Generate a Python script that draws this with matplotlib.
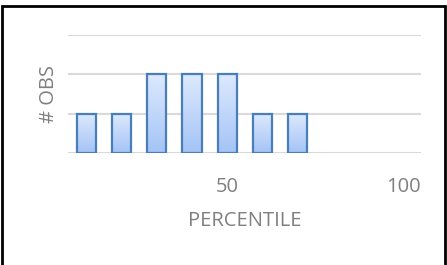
import numpy as np
import matplotlib
matplotlib.use("Agg")
import matplotlib.pyplot as plt
from matplotlib.patches import Rectangle
from matplotlib.colors import LinearSegmentedColormap

percentile = [10, 20, 30, 40, 50, 60, 70]
obs = [1, 1, 2, 2, 2, 1, 1]
xticks = [50, 100]

fig = plt.figure(figsize=(4.47, 2.65), dpi=100)
ax = fig.add_axes([68 / 447, 1 - 153 / 265, (421 - 68) / 447, (153 - 35) / 265])

grad = LinearSegmentedColormap.from_list("g", ["#a4c4f6", "#dde9fd"])
bars = ax.bar(percentile, obs, width=5.4, facecolor="none",
              edgecolor="#4a7ebb", linewidth=1.6, zorder=3)
for b in bars:
    x0, y0 = b.get_x(), b.get_y()
    w, h = b.get_width(), b.get_height()
    im = ax.imshow(np.linspace(0, 1, 100).reshape(-1, 1), cmap=grad,
                   extent=[x0, x0 + w, y0, y0 + h], origin="lower",
                   aspect="auto", zorder=2)
    im.set_clip_path(b)

ax.set_xlim(4.8, 105)
ax.set_ylim(0, 3)
ax.set_yticks([0, 1, 2, 3])
ax.set_yticklabels([])
ax.set_xticks(xticks)
ax.grid(axis="y", color="#d9d9d9", linewidth=1.5, zorder=0)
for s in ax.spines.values():
    s.set_visible(False)
ax.tick_params(length=0, labelsize=14.5, labelcolor="#7f7f7f", pad=17)
for lab in ax.get_xticklabels():
    lab.set_fontfamily("Open Sans")
ax.set_xlabel("PERCENTILE", fontsize=14.5, color="#7f7f7f",
              fontfamily="Open Sans")
ax.set_ylabel("# OBS", fontsize=14.5, color="#7f7f7f",
              fontfamily="Open Sans")
ax.xaxis.set_label_coords(0.5, -0.49)
ax.yaxis.set_label_coords(-0.025, 0.5)

fig.patches.append(Rectangle((2 / 447, -0.1), 443 / 447, 1.1 - 6 / 265,
                             transform=fig.transFigure, fill=False,
                             edgecolor="black", linewidth=2))

fig.savefig("out.png", dpi=100)
